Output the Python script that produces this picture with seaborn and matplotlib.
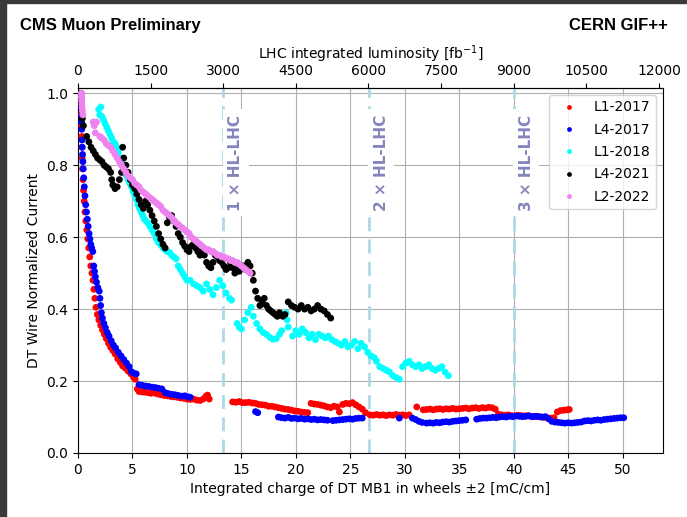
import matplotlib
matplotlib.use("Agg")
import matplotlib.pyplot as plt
from matplotlib.patches import Rectangle
import numpy as np
import pandas as pd
import seaborn as sns

# ---- measured series: integrated charge [mC/cm] vs normalized wire current ----
l1_2017_x = [0.30, 0.31, 0.32, 0.33, 0.35, 0.37, 0.39, 0.42, 0.46, 0.51, 0.57, 0.64, 0.72, 0.81,
             0.90, 0.99, 1.08, 1.18, 1.28, 1.38, 1.46, 1.55, 1.65, 1.78, 1.92, 2.08, 2.25, 2.42,
             2.60, 2.80, 3.00, 3.20, 3.42, 3.65, 3.88, 4.10, 4.35, 4.60, 4.85, 5.10, 5.25, 5.45,
             5.60, 5.85, 6.10, 6.40, 6.70, 7.00, 7.30, 7.60, 7.90, 8.20, 8.50, 8.80, 9.10, 9.40,
             9.70, 10.00, 10.30, 10.60, 10.90, 11.20, 11.50, 11.75, 11.90, 12.05,
             14.2, 14.5, 14.8, 15.1, 15.4, 15.7, 16.0, 16.3, 16.6, 16.9, 17.2, 17.5, 17.8, 18.1,
             18.4, 18.7, 19.0, 19.3, 19.6, 19.9, 20.2, 20.5, 20.8, 21.1, 21.4, 21.7, 22.0, 22.3,
             22.6, 22.9, 23.2, 23.5, 23.8, 24.0, 24.3, 24.6, 24.9, 25.2, 25.5, 25.8, 26.1, 26.4,
             26.8, 27.1, 27.4, 27.7, 28.0, 28.3, 28.6, 28.9, 29.2, 29.5, 29.8, 30.1, 30.4, 31.1,
             31.7, 32.0, 32.3, 32.6, 32.9, 33.2, 33.5, 33.8, 34.1, 34.4, 34.7, 35.0, 35.3, 35.6,
             35.9, 36.2, 36.5, 36.8, 37.1, 37.4, 37.7, 38.0, 38.3, 38.6, 38.9, 39.2, 39.5, 39.8,
             40.1, 40.4, 40.7, 41.0, 41.3, 41.6, 41.9, 42.2, 42.5, 42.8, 43.1, 43.4, 43.7, 44.0,
             44.3, 44.6, 44.9, 45.1]
l1_2017_y = [1.00, 0.97, 0.94, 0.91, 0.88, 0.85, 0.82, 0.79, 0.76, 0.73, 0.70, 0.67, 0.645, 0.62,
             0.595, 0.57, 0.545, 0.52, 0.50, 0.48, 0.455, 0.43, 0.405, 0.385, 0.37, 0.355, 0.342, 0.33,
             0.318, 0.305, 0.294, 0.285, 0.275, 0.262, 0.252, 0.242, 0.236, 0.228, 0.220, 0.210, 0.205, 0.178,
             0.171, 0.170, 0.169, 0.168, 0.166, 0.167, 0.164, 0.162, 0.160, 0.159, 0.157, 0.156, 0.155, 0.153,
             0.152, 0.150, 0.149, 0.150, 0.147, 0.146, 0.150, 0.158, 0.161, 0.150,
             0.142, 0.141, 0.143, 0.140, 0.140, 0.141, 0.139, 0.138, 0.135, 0.134, 0.133, 0.130, 0.130, 0.128,
             0.126, 0.124, 0.122, 0.121, 0.119, 0.117, 0.116, 0.114, 0.113, 0.112, 0.138, 0.136, 0.135, 0.133,
             0.131, 0.128, 0.126, 0.130, 0.128, 0.114, 0.135, 0.138, 0.137, 0.140, 0.134, 0.128, 0.122, 0.112,
             0.106, 0.105, 0.107, 0.105, 0.106, 0.104, 0.106, 0.105, 0.107, 0.105, 0.106, 0.104, 0.106, 0.128,
             0.120, 0.121, 0.122, 0.120, 0.122, 0.123, 0.121, 0.123, 0.122, 0.124, 0.122, 0.123, 0.124, 0.125,
             0.123, 0.125, 0.126, 0.124, 0.126, 0.125, 0.127, 0.126, 0.122, 0.108, 0.106, 0.105, 0.106, 0.104,
             0.103, 0.105, 0.104, 0.103, 0.104, 0.102, 0.101, 0.102, 0.100, 0.099, 0.098, 0.097, 0.098, 0.114,
             0.118, 0.119, 0.120, 0.121]

l4_2017_x = [0.30, 0.31, 0.32, 0.33, 0.35, 0.37, 0.39, 0.42, 0.45, 0.49, 0.53, 0.58, 0.64, 0.71,
             0.78, 0.86, 0.94, 1.02, 1.10, 1.18, 1.26, 1.36, 1.45, 1.52, 1.60, 1.70, 1.82, 1.95,
             2.02, 2.08, 2.15, 2.25, 2.38, 2.52, 2.68, 2.85, 3.05, 3.25, 3.45, 3.70, 3.95, 4.20,
             4.45, 4.70, 4.90, 5.10, 5.35, 5.60, 5.90, 6.20, 6.50, 6.80, 7.10, 7.40, 7.70, 8.00,
             8.30, 8.60, 8.90, 9.20, 9.50, 9.80, 10.10, 10.30,
             16.3, 16.5, 18.4, 18.7, 19.0, 19.3, 19.6, 19.9, 20.2, 20.5, 20.8, 21.1, 21.4, 21.7,
             22.0, 22.3, 22.6, 22.9, 23.4, 23.7, 24.0, 24.3, 24.6, 24.9, 25.2, 25.5, 25.8, 26.1,
             29.5, 30.7, 31.0, 31.3, 31.6, 32.0, 32.3, 32.6, 32.9, 33.2, 33.5, 33.8, 34.1, 34.4,
             34.7, 35.0, 35.3, 35.6, 36.6, 36.9, 37.2, 37.5, 37.8, 38.1, 38.4, 38.7, 39.0, 39.3,
             39.6, 39.9, 40.2, 40.5, 40.8, 41.1, 41.4, 41.7, 42.0, 42.3, 42.6, 42.9, 43.2, 43.5,
             43.8, 44.1, 44.4, 44.7, 45.0, 45.3, 45.6, 45.9, 46.2, 46.5, 46.8, 47.1, 47.4, 47.7,
             48.0, 48.3, 48.6, 48.9, 49.2, 49.5, 49.8, 50.1]
l4_2017_y = [0.99, 0.96, 0.935, 0.92, 0.90, 0.87, 0.85, 0.83, 0.81, 0.79, 0.765, 0.74, 0.715, 0.69,
             0.67, 0.65, 0.63, 0.61, 0.595, 0.58, 0.57, 0.56, 0.52, 0.505, 0.49, 0.475, 0.46, 0.45,
             0.43, 0.41, 0.39, 0.375, 0.36, 0.348, 0.335, 0.325, 0.312, 0.300, 0.292, 0.280, 0.270, 0.260,
             0.250, 0.240, 0.226, 0.222, 0.220, 0.190, 0.188, 0.186, 0.185, 0.183, 0.182, 0.180, 0.178, 0.168,
             0.165, 0.163, 0.162, 0.160, 0.158, 0.159, 0.156, 0.155,
             0.115, 0.112, 0.100, 0.098, 0.097, 0.099, 0.096, 0.097, 0.095, 0.096, 0.094, 0.095, 0.093, 0.094,
             0.092, 0.093, 0.092, 0.091, 0.090, 0.091, 0.092, 0.093, 0.094, 0.095, 0.094, 0.096, 0.097, 0.097,
             0.097, 0.097, 0.093, 0.088, 0.085, 0.083, 0.084, 0.083, 0.085, 0.084, 0.086, 0.087, 0.086, 0.088,
             0.089, 0.090, 0.091, 0.092, 0.094, 0.096, 0.097, 0.097, 0.098, 0.099, 0.098, 0.100, 0.101, 0.100,
             0.102, 0.101, 0.103, 0.102, 0.101, 0.102, 0.103, 0.101, 0.102, 0.101, 0.100, 0.101, 0.095, 0.088,
             0.086, 0.085, 0.084, 0.083, 0.084, 0.083, 0.084, 0.085, 0.086, 0.089, 0.090, 0.089, 0.091, 0.092,
             0.091, 0.093, 0.094, 0.095, 0.096, 0.097, 0.098, 0.098]

l1_2018_x = [1.9, 2.1, 2.0, 2.2, 2.35, 2.5, 2.65, 2.8, 2.95, 3.1, 3.25, 3.4, 3.55, 3.7, 3.85, 4.0,
             4.15, 4.3, 4.45, 4.6, 4.75, 4.9, 5.05, 5.2, 5.35, 5.5, 5.65, 5.8, 5.95, 6.1, 6.25, 6.4,
             6.6, 6.8, 7.0, 7.2, 7.4, 7.6, 7.8, 8.0, 8.2, 8.4, 8.6, 8.8, 9.0, 9.2, 9.4, 9.6, 9.8,
             10.0, 10.3, 10.6, 10.9, 11.2, 11.5, 11.8, 12.1, 12.4, 12.7, 13.0, 13.3, 13.6, 13.9, 14.1,
             14.6, 14.8, 15.0, 15.3, 15.6, 15.9, 16.1, 16.4, 16.7, 17.0, 17.3, 17.6, 17.9, 18.2, 18.5,
             18.7, 19.1, 19.2, 19.3, 19.7, 20.0, 20.3, 20.6, 20.9, 21.2, 21.5, 21.8, 22.1, 22.4, 22.7,
             23.0, 23.3, 23.6, 23.9, 24.2, 24.5, 24.8, 25.1, 25.4, 25.7, 26.0, 26.3, 26.6, 26.9, 27.2,
             27.4, 27.7, 28.0, 28.3, 28.6, 28.9, 29.2, 29.5, 29.8, 30.1, 30.4, 30.7, 31.0, 31.3, 31.6,
             31.9, 32.2, 32.5, 32.8, 33.1, 33.4, 33.7, 34.0]
l1_2018_y = [0.955, 0.962, 0.94, 0.935, 0.925, 0.915, 0.905, 0.895, 0.885, 0.875, 0.865, 0.86, 0.85,
             0.835, 0.82, 0.805, 0.79, 0.78, 0.77, 0.76, 0.75, 0.74, 0.728, 0.716, 0.705, 0.69, 0.68,
             0.67, 0.66, 0.65, 0.645, 0.64, 0.63, 0.62, 0.61, 0.595, 0.585, 0.578, 0.57, 0.565, 0.56,
             0.558, 0.55, 0.545, 0.54, 0.52, 0.51, 0.50, 0.49, 0.48, 0.48, 0.47, 0.465, 0.46, 0.45,
             0.47, 0.455, 0.44, 0.46, 0.48, 0.465, 0.445, 0.43, 0.425,
             0.36, 0.35, 0.345, 0.37, 0.39, 0.405, 0.38, 0.36, 0.345, 0.335, 0.33, 0.322, 0.316, 0.318,
             0.33, 0.34, 0.39, 0.37, 0.35, 0.325, 0.34, 0.33, 0.345, 0.335, 0.32, 0.33, 0.315, 0.33,
             0.325, 0.32, 0.325, 0.315, 0.31, 0.305, 0.30, 0.31, 0.295, 0.30, 0.31, 0.29, 0.305, 0.295,
             0.28, 0.27, 0.265, 0.255, 0.24, 0.235, 0.23, 0.225, 0.215, 0.21, 0.205, 0.24, 0.25, 0.255,
             0.245, 0.24, 0.245, 0.235, 0.24, 0.245, 0.235, 0.23, 0.235, 0.24, 0.225, 0.215]

l4_2021_x = [0.25, 0.30, 0.35, 0.40, 0.50, 0.80, 1.0, 1.2, 1.4, 1.6, 1.8, 2.0, 2.2, 2.4, 2.6, 2.8,
             3.0, 3.1, 3.2, 3.4, 3.6, 3.8, 4.0, 4.1, 4.2, 4.4, 4.6, 4.8, 5.0, 5.2, 5.4, 5.6, 5.8,
             6.0, 6.2, 6.4, 6.6, 6.8, 7.0, 7.2, 7.4, 7.6, 7.8, 8.0, 8.2, 8.4, 8.6, 8.8, 9.0, 9.2,
             9.4, 9.6, 9.8, 10.0, 10.2, 10.4, 10.6, 10.8, 11.0, 11.2, 11.4, 11.6, 11.8, 12.0, 12.2,
             12.4, 12.6, 12.8, 13.0, 13.2, 13.4, 13.6, 13.8, 14.0, 14.2, 14.4, 14.6, 14.8, 15.0,
             15.2, 15.4, 15.6, 15.8, 16.0, 16.1, 16.3, 16.5, 16.7, 16.9, 17.1, 17.3, 17.5, 17.7,
             17.9, 18.1, 18.3, 18.5, 18.8, 19.0, 19.3, 19.6, 19.9, 20.2, 20.5, 20.8, 21.1, 21.4,
             21.7, 22.0, 22.3, 22.6, 22.9, 23.2]
l4_2021_y = [1.00, 0.97, 0.95, 0.93, 0.91, 0.88, 0.865, 0.85, 0.84, 0.83, 0.82, 0.815, 0.81, 0.80,
             0.795, 0.79, 0.78, 0.76, 0.745, 0.735, 0.74, 0.76, 0.78, 0.85, 0.82, 0.80, 0.78, 0.76,
             0.745, 0.735, 0.72, 0.705, 0.69, 0.68, 0.70, 0.69, 0.675, 0.66, 0.645, 0.63, 0.61, 0.595,
             0.58, 0.57, 0.64, 0.655, 0.66, 0.645, 0.63, 0.61, 0.60, 0.585, 0.575, 0.565, 0.56, 0.575,
             0.58, 0.57, 0.56, 0.55, 0.565, 0.55, 0.53, 0.52, 0.515, 0.53, 0.55, 0.545, 0.535, 0.53,
             0.52, 0.51, 0.515, 0.53, 0.515, 0.50, 0.51, 0.505, 0.52, 0.52, 0.51, 0.53, 0.52, 0.50,
             0.48, 0.45, 0.43, 0.41, 0.42, 0.43, 0.41, 0.40, 0.395, 0.39, 0.385, 0.38, 0.39, 0.38,
             0.385, 0.42, 0.41, 0.405, 0.40, 0.41, 0.40, 0.405, 0.395, 0.40, 0.41, 0.40, 0.395, 0.385,
             0.375]

l2_2022_x = [0.30, 0.32, 0.34, 0.36, 0.38, 0.40, 0.45, 1.4, 1.5, 1.6, 1.7, 2.0, 2.2, 2.4, 2.6, 2.8,
             3.0, 3.2, 3.4, 3.6, 3.8, 4.0, 4.2, 4.4, 4.6, 4.8, 5.0, 5.2, 5.4, 5.6, 5.8, 6.0, 6.2,
             6.4, 6.6, 6.8, 7.0, 7.2, 7.4, 7.6, 7.8, 8.0, 8.2, 8.4, 8.6, 8.8, 9.0, 9.2, 9.4, 9.6,
             9.8, 10.0, 10.2, 10.4, 10.6, 10.8, 11.0, 11.2, 11.4, 11.6, 11.8, 12.0, 12.2, 12.4, 12.6,
             12.8, 13.0, 13.2, 13.4, 13.6, 13.8, 14.0, 14.2, 14.4, 14.6, 14.8, 15.0, 15.2, 15.4, 15.6,
             15.8]
l2_2022_y = [1.00, 0.99, 0.98, 0.97, 0.96, 0.95, 0.94, 0.92, 0.91, 0.89, 0.92, 0.88, 0.875, 0.87,
             0.86, 0.855, 0.85, 0.84, 0.83, 0.82, 0.81, 0.80, 0.79, 0.78, 0.77, 0.765, 0.76, 0.75,
             0.745, 0.74, 0.73, 0.725, 0.72, 0.715, 0.71, 0.705, 0.70, 0.695, 0.69, 0.685, 0.675, 0.67,
             0.665, 0.66, 0.655, 0.645, 0.64, 0.635, 0.63, 0.625, 0.62, 0.615, 0.61, 0.60, 0.595, 0.59,
             0.585, 0.58, 0.575, 0.57, 0.565, 0.565, 0.56, 0.56, 0.555, 0.55, 0.55, 0.545, 0.545, 0.54,
             0.54, 0.535, 0.535, 0.53, 0.53, 0.525, 0.52, 0.515, 0.51, 0.505, 0.50]

series_names = ["L1-2017", "L4-2017", "L1-2018", "L4-2021", "L2-2022"]
series_colors = ["red", "blue", "cyan", "black", "violet"]
series_x = [l1_2017_x, l4_2017_x, l1_2018_x, l4_2021_x, l2_2022_x]
series_y = [l1_2017_y, l4_2017_y, l1_2018_y, l4_2021_y, l2_2022_y]

# HL-LHC milestones (charge equivalent of 3000, 6000, 9000 fb^-1)
hl_lhc_labels = ["1 × HL-LHC", "2 × HL-LHC", "3 × HL-LHC"]
hl_lhc_charge = [13.33, 26.67, 40.0]
lumi_per_charge = 225.0   # fb^-1 per mC/cm

frames = [pd.DataFrame({"charge": x, "current": y, "chamber": n})
          for n, x, y in zip(series_names, series_x, series_y)]
df = pd.concat(frames, ignore_index=True)

fig = plt.figure(figsize=(6.87, 5.17), dpi=100)
ax = fig.add_axes([0.1135, 0.1238, 0.8515, 0.7062])

sns.scatterplot(data=df, x="charge", y="current", hue="chamber",
                hue_order=series_names, palette=dict(zip(series_names, series_colors)),
                s=24, linewidth=0, ax=ax, zorder=3)

for xc, lab in zip(hl_lhc_charge, hl_lhc_labels):
    ax.axvline(xc, color="lightblue", ls="--", lw=2, dashes=(5, 3), zorder=2)
    ax.text(xc + 1.15, 0.94, lab, rotation=90, ha="center", va="top",
            color="#8585bd", fontsize=11, fontweight="bold",
            bbox=dict(facecolor="white", edgecolor="none", pad=4), zorder=2.5)

ax.set_xlim(0, 53.7)
ax.set_ylim(0, 1.015)
ax.set_xticks(np.arange(0, 51, 5))
ax.set_yticks(np.arange(0, 1.01, 0.2))
ax.yaxis.set_major_formatter(matplotlib.ticker.FormatStrFormatter("%.1f"))
ax.grid(True, color="#b0b0b0", lw=0.8, zorder=0)
ax.set_axisbelow(True)
ax.set_xlabel("Integrated charge of DT MB1 in wheels ±2 [mC/cm]", fontsize=10)
ax.set_ylabel("DT Wire Normalized Current", fontsize=10)
ax.tick_params(labelsize=10)

top = ax.secondary_xaxis("top", functions=(lambda c: c * lumi_per_charge,
                                           lambda l: l / lumi_per_charge))
top.set_xticks(np.arange(0, 12001, 1500))
top.set_xlabel("LHC integrated luminosity [fb$^{-1}$]", fontsize=10)
top.tick_params(labelsize=10)

leg = ax.legend(loc="upper right", markerscale=0.7, fontsize=10, title=None,
                labelspacing=0.6)

fig.text(0.029, 0.951, "CMS Muon Preliminary", fontsize=12, fontweight="bold",
         family="Liberation Sans", ha="left", va="center")
fig.text(0.972, 0.951, "CERN GIF++", fontsize=12, fontweight="bold",
         family="Liberation Sans", ha="right", va="center")

# dark frame strips on the left and top edges
fig.patches.append(Rectangle((0, 0), 6 / 687, 1, transform=fig.transFigure,
                             color="#3a3a3a", zorder=10))
fig.patches.append(Rectangle((0, 1 - 3 / 517), 1, 3 / 517, transform=fig.transFigure,
                             color="#3a3a3a", zorder=10))

fig.savefig("out.png", dpi=100)
